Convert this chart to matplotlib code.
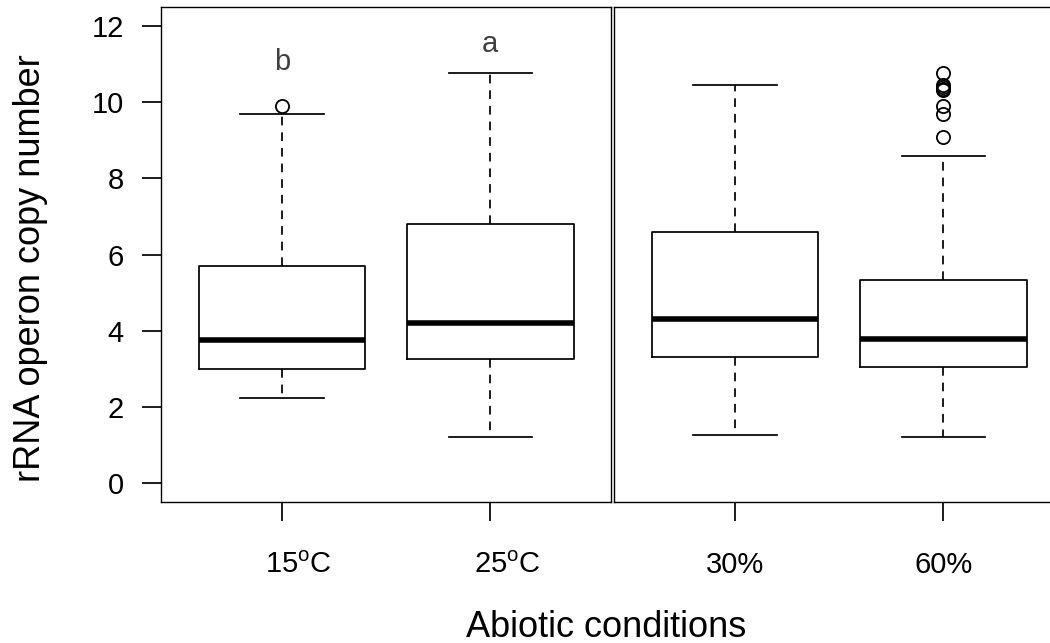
import matplotlib
matplotlib.use("Agg")
import matplotlib.pyplot as plt
import matplotlib.transforms as mtransforms

plt.rcParams['font.family'] = ['Liberation Sans', 'DejaVu Sans']
plt.rcParams['mathtext.fontset'] = 'custom'
plt.rcParams['mathtext.rm'] = 'Liberation Sans'
plt.rcParams['mathtext.it'] = 'Liberation Sans:italic'

# ---- data ----
temp_labels = [r'$\mathrm{15^{o}C}$', r'$\mathrm{25^{o}C}$']
temp_q1 = [3.01, 3.27]
temp_med = [3.76, 4.21]
temp_q3 = [5.70, 6.80]
temp_whislo = [2.24, 1.22]
temp_whishi = [9.68, 10.76]
temp_fliers = [[9.88], []]
temp_letters = ['b', 'a']
temp_letter_y = [10.84, 11.31]

moist_labels = ['30%', '60%']
moist_q1 = [3.31, 3.06]
moist_med = [4.31, 3.78]
moist_q3 = [6.59, 5.34]
moist_whislo = [1.28, 1.22]
moist_whishi = [10.45, 8.58]
moist_fliers = [[], [10.77, 10.45, 10.40, 10.35, 10.31, 9.90, 9.68, 9.07]]

yticks = [0, 2, 4, 6, 8, 10, 12]
ylabel = 'rRNA operon copy number'
xlabel = 'Abiotic conditions'


def make_stats(q1, med, q3, lo, hi, fl):
    return [dict(q1=a, med=b, q3=c, whislo=d, whishi=e, fliers=f)
            for a, b, c, d, e, f in zip(q1, med, q3, lo, hi, fl)]


W, H = 1050, 643
fig = plt.figure(figsize=(W / 100, H / 100), dpi=100)

lw = 1.25
slw = 1.0
ax_h = (501.7 - 7.3) / H
ax_b = 1 - 501.7 / H
ax1 = fig.add_axes([161 / W, ax_b, 450 / W, ax_h])
ax2 = fig.add_axes([614 / W, ax_b, 450 / W, ax_h])

boxprops = dict(color='black', linewidth=lw)
medianprops = dict(color='black', linewidth=4.0, solid_capstyle='butt')
whiskerprops = dict(color='black', linewidth=lw, linestyle=(0, (5, 4)))
capprops = dict(color='black', linewidth=lw)
flierprops = dict(marker='o', markerfacecolor='none', markeredgecolor='black',
                  markersize=9.5, markeredgewidth=1.3, linestyle='none')

for ax, stats in [(ax1, make_stats(temp_q1, temp_med, temp_q3, temp_whislo, temp_whishi, temp_fliers)),
                  (ax2, make_stats(moist_q1, moist_med, moist_q3, moist_whislo, moist_whishi, moist_fliers))]:
    ax.bxp(stats, positions=[1, 2], widths=0.8, capwidths=0.4,
           boxprops=boxprops, medianprops=medianprops, whiskerprops=whiskerprops,
           capprops=capprops, flierprops=flierprops, showfliers=True)
    ax.set_xlim(0.42, 2.58)
    ax.set_ylim(-0.48, 12.48)
    for s in ax.spines.values():
        s.set_linewidth(slw)
    ax.set_xticks([1, 2])
    ax.set_xticklabels(['', ''])
    ax.tick_params(axis='x', direction='out', length=13.7, width=lw)

ax1.set_yticks(yticks)
ax1.set_yticklabels([str(v) for v in yticks], fontsize=21)
ax1.tick_params(axis='y', direction='out', length=13.7, width=lw, pad=13)
ax2.set_yticks([])

# x tick labels (manual, to match offsets)
for ax, labels, dx in [(ax1, temp_labels, 17), (ax2, moist_labels, 0)]:
    for pos, lab in zip([1, 2], labels):
        tr = mtransforms.blended_transform_factory(ax.transData, ax.transAxes) + \
            mtransforms.ScaledTranslation(dx / 100, -71 / 100, fig.dpi_scale_trans)
        ax.text(pos, 0, lab, transform=tr, ha='center', va='baseline', fontsize=21)

# significance letters
for pos, let, yy in zip([1, 2], temp_letters, temp_letter_y):
    ax1.text(pos, yy, let, ha='center', va='baseline', fontsize=21, color='#404040')

fig.text(31 / W, 1 - 268 / H, ylabel, rotation=90, ha='center', va='center', fontsize=26)
fig.text(606 / W, 1 - 637 / H, xlabel, ha='center', va='baseline', fontsize=26)

fig.savefig('out.png', dpi=100)
